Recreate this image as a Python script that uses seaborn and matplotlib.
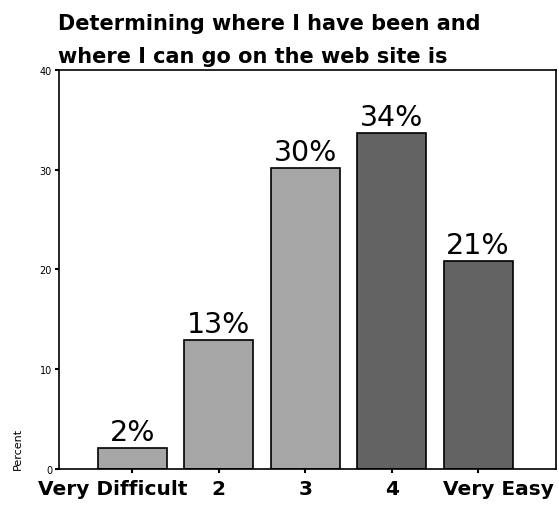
import pandas as pd
import seaborn as sns
import matplotlib.pyplot as plt
from matplotlib.transforms import ScaledTranslation

# values
categories = ["Very Difficult", "2", "3", "4", "Very Easy"]
percents = [2.1, 12.9, 30.2, 33.7, 20.8]
labels = ["2%", "13%", "30%", "34%", "21%"]
bar_colors = ["#a6a6a6", "#a6a6a6", "#a6a6a6", "#636363", "#636363"]

df = pd.DataFrame({"Category": categories, "Percent": percents})

sns.set_style("white")
plt.rcParams["font.family"] = ["DejaVu Sans"]
plt.rcParams["text.color"] = "black"
plt.rcParams["axes.labelcolor"] = "black"
plt.rcParams["xtick.color"] = "black"
plt.rcParams["ytick.color"] = "black"

fig = plt.figure(figsize=(5.59, 5.10), dpi=100)
ax = fig.add_axes([0.1055, 0.0784, 0.889, 0.7826])

sns.barplot(x="Category", y="Percent", data=df, hue="Category", palette=bar_colors,
            legend=False, width=0.8, edgecolor="black", linewidth=1.2, ax=ax)

for i, (v, t) in enumerate(zip(percents, labels)):
    ax.text(i, v + 0.8, t, ha="center", va="baseline", fontsize=20.5)

ax.set_xlim(-0.85, 4.9)
ax.set_ylim(0, 40)
ax.set_yticks([0, 10, 20, 30, 40])
ax.tick_params(axis="y", labelsize=7, length=3, width=1.5, direction="out", left=True, pad=2)
ax.tick_params(axis="x", labelsize=14.5, length=3, width=1.5, direction="out", bottom=True, pad=4)
xlabs = ax.get_xticklabels()
for lab in xlabs:
    lab.set_fontweight("bold")
# the outer labels are pushed inward-out like in the original
xlabs[0].set_transform(xlabs[0].get_transform() + ScaledTranslation(-0.20, 0, fig.dpi_scale_trans))
xlabs[-1].set_transform(xlabs[-1].get_transform() + ScaledTranslation(0.20, 0, fig.dpi_scale_trans))
ax.set_xlabel("")
ax.set_ylabel("Percent", fontsize=8, loc="bottom", labelpad=12)
for s in ax.spines.values():
    s.set_visible(True)
    s.set_color("black")
    s.set_linewidth(1.2)

fig.text(0.103, 0.877, "Determining where I have been and\nwhere I can go on the web site is",
         ha="left", va="baseline", fontsize=15, fontweight="bold", linespacing=1.8)

fig.savefig("out.png", dpi=100)
